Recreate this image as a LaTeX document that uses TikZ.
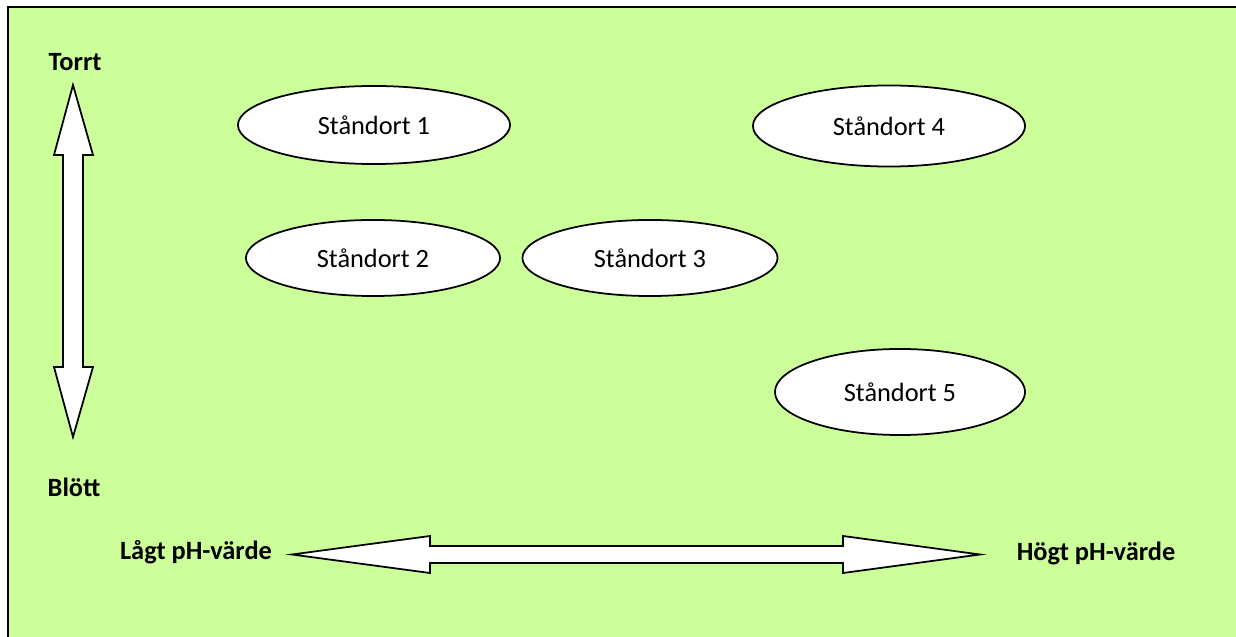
\documentclass[tikz,border=0pt]{standalone}
\usepackage{fontspec}
\setmainfont{Carlito}
\usetikzlibrary{shapes.geometric}
\definecolor{bg}{HTML}{CCFF99}
\tikzset{
  site/.style={ellipse, draw=black, line width=0.5pt, fill=white, inner sep=0pt, font=\fontsize{7.5}{9}\selectfont},
  lbl/.style={font=\fontsize{7.5}{9}\selectfont\bfseries, inner sep=0pt},
  blockarrow/.style={draw=black, line width=0.5pt, fill=white, line join=miter}
}
\begin{document}
\begin{tikzpicture}[x=0.01cm,y=-0.01cm]
\useasboundingbox (0,0) rectangle (1236,637);
\begin{scope}
\clip (0,0) rectangle (1236,637);
\fill[bg] (8,7) rectangle (1236,637);
\draw[line width=0.6pt] (8,637) -- (8,7) -- (1236,7);
\end{scope}
% vertical double arrow
\draw[blockarrow] (73,85) -- (93,155) -- (83,155) -- (83,367) -- (93,367) -- (73,437)
  -- (54,367) -- (63,367) -- (63,155) -- (54,155) -- cycle;
% horizontal double arrow
\draw[blockarrow] (292,554.5) -- (430,536) -- (430,546) -- (843,546) -- (843,536) -- (980,554.5)
  -- (843,573) -- (843,563) -- (430,563) -- (430,573) -- cycle;
% sites
\node[site, minimum width=2.72cm, minimum height=0.78cm] (s1) at (374,125) {Ståndort 1};
\node[site, minimum width=2.72cm, minimum height=0.81cm] (s4) at (889,126) {Ståndort 4};
\node[site, minimum width=2.54cm, minimum height=0.76cm] (s2) at (373,258) {Ståndort 2};
\node[site, minimum width=2.55cm, minimum height=0.76cm] (s3) at (650,258) {Ståndort 3};
\node[site, minimum width=2.50cm, minimum height=0.86cm] (s5) at (900,392) {Ståndort 5};
% labels
\node[lbl, anchor=west] (torrt) at (48,62) {Torrt};
\node[lbl, anchor=west] (blott) at (47,487) {Blött};
\node[lbl] (lagt) at (196,552) {Lågt pH-värde};
\node[lbl] (hogt) at (1096,553) {Högt pH-värde};
\end{tikzpicture}
\end{document}
